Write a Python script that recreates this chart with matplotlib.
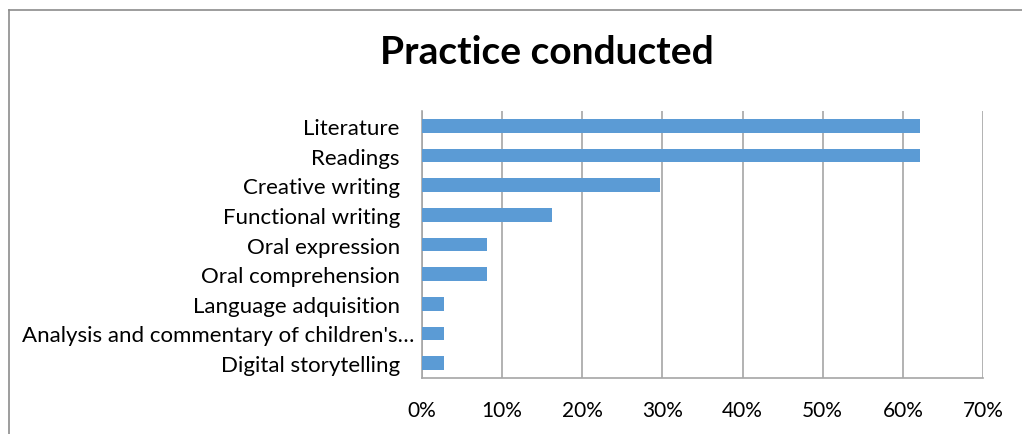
import matplotlib
matplotlib.use("Agg")
import matplotlib.pyplot as plt
import matplotlib.transforms as mtransforms
from matplotlib.lines import Line2D
from matplotlib.ticker import FuncFormatter, MultipleLocator

categories = [
    "Literature",
    "Readings",
    "Creative writing",
    "Functional writing",
    "Oral expression",
    "Oral comprehension",
    "Language adquisition",
    "Analysis and commentary of children's\u2026",
    "Digital storytelling",
]
shares = [62.2, 62.2, 29.7, 16.2, 8.1, 8.1, 2.7, 2.7, 2.7]
title = "Practice conducted"

W, H = 1022, 435
fig = plt.figure(figsize=(W / 100, H / 100), dpi=100)
plt.rcParams["font.family"] = ["Lato", "DejaVu Sans"]

# outer chart frame: left and top edges
fx, fy = 8.5 / W, 1 - 10.5 / H
fig.add_artist(Line2D([fx, fx], [0, fy], transform=fig.transFigure,
                      color="#8c8c8c", linewidth=1.2))
fig.add_artist(Line2D([fx, 1], [fy, fy], transform=fig.transFigure,
                      color="#8c8c8c", linewidth=1.2))

left, right, top, bottom = 422, 983, 112, 379
ax = fig.add_axes([left / W, 1 - bottom / H, (right - left) / W, (bottom - top) / H])

y = list(range(len(categories)))
ax.barh(y, shares, height=0.47, color="#5B9BD5", zorder=3)
ax.set_ylim(len(categories) - 0.5, -0.5)
ax.set_xlim(0, 70)
ax.xaxis.set_major_locator(MultipleLocator(10))
ax.xaxis.set_major_formatter(FuncFormatter(lambda v, p: f"{v:.0f}%"))
ax.grid(axis="x", color="#a6a6a6", linewidth=1.2, zorder=0)
ax.set_yticks(y)
ax.set_yticklabels(categories)
ax.tick_params(axis="y", length=0, pad=16, labelsize=16)
ax.tick_params(axis="x", length=0, pad=16, labelsize=15)
for s in ["top", "right"]:
    ax.spines[s].set_visible(False)
for s in ["left", "bottom"]:
    ax.spines[s].set_color("#a6a6a6")
    ax.spines[s].set_linewidth(1.2)

# the truncated label runs a little closer to the axis
shift = mtransforms.ScaledTranslation(15 / 100, 0, fig.dpi_scale_trans)
for lbl in ax.get_yticklabels():
    if lbl.get_text().endswith("\u2026"):
        lbl.set_transform(lbl.get_transform() + shift)

fig.text(547 / W, 1 - 53 / H, title, ha="center", va="center",
         fontsize=28, fontweight="bold")

fig.savefig("out.png", dpi=100)
